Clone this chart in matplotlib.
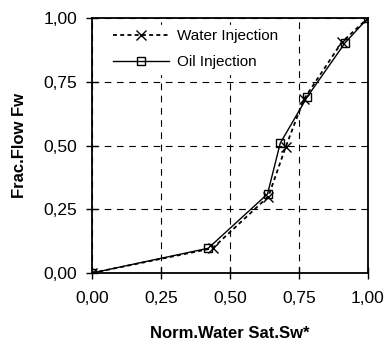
import numpy as np
import matplotlib
matplotlib.use('Agg')
import matplotlib.pyplot as plt
from matplotlib.ticker import FuncFormatter

plt.rcParams['font.family'] = ['Liberation Sans', 'DejaVu Sans']

# water injection (x markers, dotted)
sw_water = [0.0, 0.437, 0.639, 0.702, 0.768, 0.905, 1.0]
fw_water = [0.0, 0.097, 0.300, 0.495, 0.682, 0.905, 1.0]
# oil injection (squares, solid)
sw_oil = [0.0, 0.421, 0.636, 0.682, 0.780, 0.917, 1.0]
fw_oil = [0.0, 0.097, 0.310, 0.509, 0.691, 0.903, 1.0]

ticks = [0.0, 0.25, 0.5, 0.75, 1.0]

fig = plt.figure(figsize=(3.86, 3.45), dpi=100)
ax = fig.add_axes([92/386, 1 - 273/345, 276/386, 255/345])

ax.plot(sw_water, fw_water, color='black', linestyle=(0, (2.2, 1.8)), linewidth=1.3,
        marker='x', markersize=7.5, markeredgewidth=1.0, label='Water Injection')
ax.plot(sw_oil, fw_oil, color='black', linestyle='-', linewidth=1.0,
        marker='s', markersize=6, markerfacecolor='none', markeredgewidth=1.0,
        label='Oil Injection')

ax.set_xlim(0, 1)
ax.set_ylim(0, 1)
ax.set_xticks(ticks)
ax.set_yticks(ticks)
fmt = FuncFormatter(lambda v, p: ('%.2f' % v).replace('.', ','))
ax.xaxis.set_major_formatter(fmt)
ax.yaxis.set_major_formatter(fmt)
ax.tick_params(direction='inout', length=8, width=1, labelsize=12.5)
ax.tick_params(axis='x', pad=9)
ax.tick_params(axis='y', pad=6.5)
ax.grid(True, color='black', linestyle=(0, (6, 5)), linewidth=0.8)
for s in ax.spines.values():
    s.set_linewidth(1.3)

ax.set_xlabel('Norm.Water Sat.Sw*', fontsize=12, fontweight='bold', labelpad=14)
ax.set_ylabel('Frac.Flow Fw', fontsize=12, fontweight='bold', labelpad=12)

leg = ax.legend(loc='upper left', bbox_to_anchor=(0.058, 0.973), frameon=True,
                fontsize=11, handlelength=3.7, borderpad=0.3, borderaxespad=0,
                labelspacing=0.75, handletextpad=0.5, fancybox=False)
leg.get_frame().set_facecolor('white')
leg.get_frame().set_edgecolor('white')
leg.get_frame().set_alpha(1)

fig.savefig('out.png', dpi=100)
